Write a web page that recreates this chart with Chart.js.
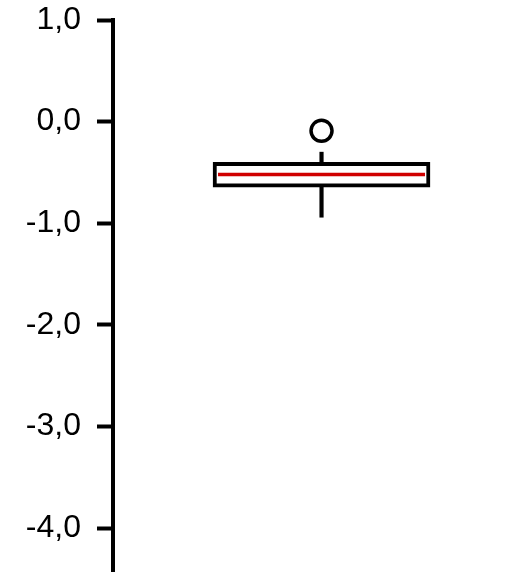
<!DOCTYPE html>
<html>
<head>
<meta charset="utf-8">
<script src="https://cdn.jsdelivr.net/npm/chart.js@4.4.1/dist/chart.umd.min.js"></script>
<style>
  body { margin: 0; background: #fff; }
  canvas { display: block; }
</style>
</head>
<body>
<canvas id="boxChart" width="514" height="572"></canvas>
<script>
// box plot values
const boxPos = [0.52];
const q1 = [-0.645];
const q3 = [-0.40];
const median = [-0.52];
const whiskerLow = [-0.94];
const whiskerHigh = [-0.30];
const outliers = [-0.09];
const tickValues = [1, 0, -1, -2, -3, -4];

// red median line across the box
const medianLine = {
  id: "medianLine",
  afterDatasetsDraw(chart) {
    const ctx = chart.ctx;
    const y = chart.scales.y;
    const meta = chart.getDatasetMeta(0);
    meta.data.forEach((bar, i) => {
      const half = bar.width / 2 - 5;
      const py = y.getPixelForValue(median[i]);
      ctx.save();
      ctx.strokeStyle = "#d00000";
      ctx.lineWidth = 3.5;
      ctx.beginPath();
      ctx.moveTo(bar.x - half, py);
      ctx.lineTo(bar.x + half, py);
      ctx.stroke();
      ctx.restore();
    });
  }
};

new Chart(document.getElementById("boxChart"), {
  type: "bar",
  data: {
    datasets: [
      {
        // the box
        data: boxPos.map((x, i) => ({x: x, y: [q1[i], q3[i]]})),
        backgroundColor: "#fff",
        borderColor: "#000",
        borderWidth: 4,
        borderSkipped: false,
        barThickness: 217,
        grouped: false,
        order: 1
      },
      {
        // whiskers
        data: boxPos.map((x, i) => ({x: x, y: [whiskerLow[i], q1[i]]}))
          .concat(boxPos.map((x, i) => ({x: x, y: [q3[i], whiskerHigh[i]]}))),
        backgroundColor: "#000",
        borderWidth: 0,
        barThickness: 3.5,
        grouped: false,
        order: 2
      },
      {
        type: "scatter",
        data: outliers.map(v => ({x: boxPos[0], y: v})),
        pointRadius: 10.5,
        pointBorderWidth: 3.5,
        pointBackgroundColor: "#fff",
        pointBorderColor: "#000",
        order: 0
      }
    ]
  },
  options: {
    responsive: false,
    animation: false,
    layout: { autoPadding: false, padding: { top: 20, right: 0, bottom: 0, left: 0 } },
    plugins: { legend: { display: false }, tooltip: { enabled: false } },
    scales: {
      x: { type: "linear", min: 0, max: 1, offset: false, display: false },
      y: {
        min: -4.43,
        max: 1,
        afterBuildTicks(scale) {
          scale.ticks = tickValues.map(v => ({value: v}));
        },
        afterFit(scale) {
          scale.width = 113;
          scale.paddingTop = 0;
          scale.paddingBottom = 0;
        },
        grid: {
          drawOnChartArea: false,
          drawTicks: true,
          tickLength: 16,
          tickWidth: 4,
          tickColor: "#000"
        },
        border: { display: true, color: "#000", width: 4 },
        ticks: {
          color: "#000",
          padding: 16,
          autoSkip: false,
          font: { family: "'Liberation Sans', Arial, sans-serif", size: 32, lineHeight: 0.1 },
          callback: v => v.toFixed(1).replace(".", ",")
        }
      }
    }
  },
  plugins: [medianLine]
});
</script>
</body>
</html>
